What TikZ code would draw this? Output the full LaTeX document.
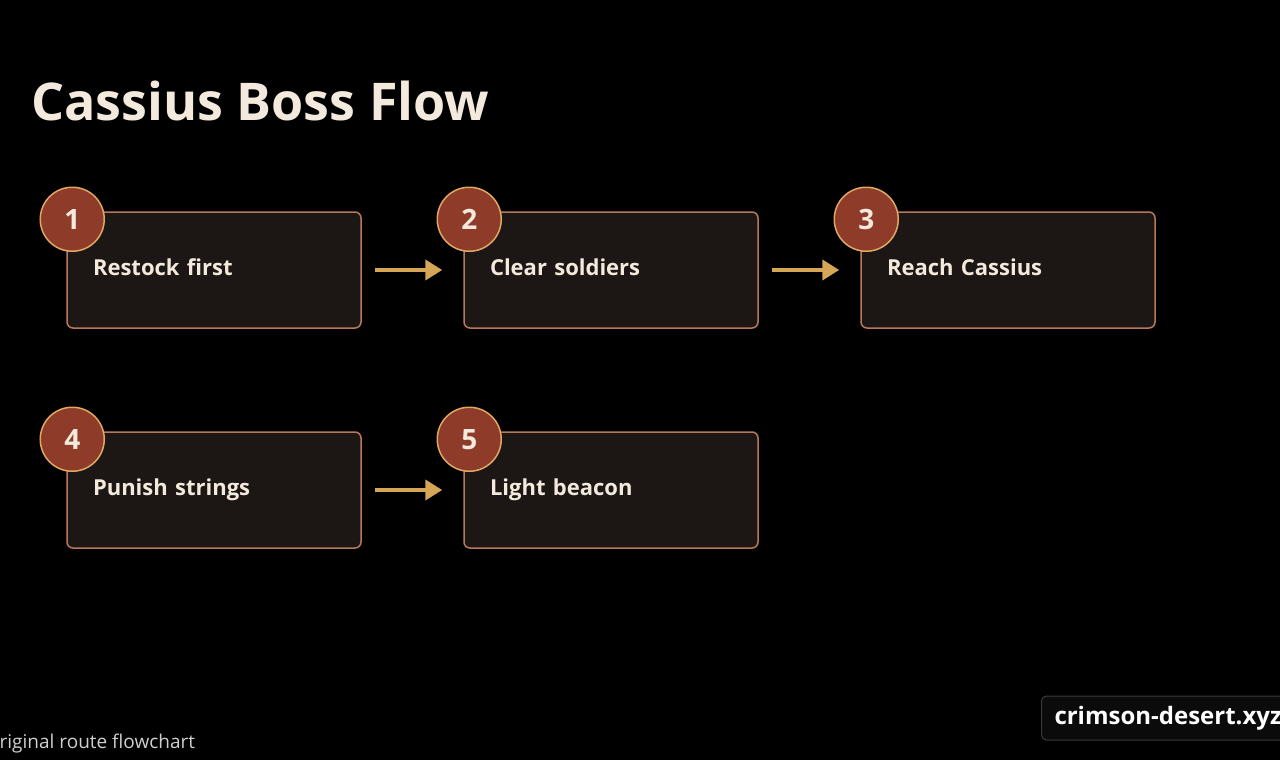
\documentclass[tikz,border=0pt]{standalone}
\usepackage{fontspec}
\setmainfont{Open Sans}
\usetikzlibrary{shapes,arrows.meta,positioning}
\definecolor{boxfill}{HTML}{1C1714}
\definecolor{boxline}{HTML}{B8785A}
\definecolor{badgefill}{HTML}{8E3B2A}
\definecolor{badgeline}{HTML}{E0A862}
\definecolor{flowcol}{HTML}{D4A656}
\definecolor{ink}{HTML}{F3E9DC}
\definecolor{notegray}{HTML}{CFCFCF}
\definecolor{tagfill}{HTML}{0B0B0B}
\definecolor{tagline}{HTML}{3A3A3A}
\tikzstyle{block} = [draw=boxline, fill=boxfill, rectangle, rounded corners=6pt,
    line width=1.5pt, minimum height=116pt, minimum width=294pt,
    text width=242pt, inner xsep=26pt, align=left, text=ink,
    font=\bfseries\fontsize{22}{26}\selectfont]
\tikzstyle{badge} = [draw=badgeline, fill=badgefill, circle, line width=1.5pt,
    minimum size=64pt, inner sep=0pt, text=ink,
    font=\bfseries\fontsize{28}{32}\selectfont]
\tikzstyle{flow} = [draw=flowcol, line width=4pt, shorten <=13pt, shorten >=21pt]

\begin{document}
\begin{tikzpicture}[x=1pt, y=-1pt, node distance=397pt,
    >={Triangle[length=17pt,width=20pt]}]
    % Page background and frame
    \fill[black] (0,0) rectangle (1280,760);
    \useasboundingbox (0,0) rectangle (1280,760);
    \node [anchor=base west, inner sep=0pt, text=ink,
            font=\bfseries\fontsize{52}{58}\selectfont] (title) at (31,121) {Cassius Boss Flow};

    % First row of steps
    \node [block] (restock) at (214,270) {\raisebox{6pt}{Restock first}};
    \node [block, right of=restock] (soldiers) {\raisebox{6pt}{Clear soldiers}};
    \node [block, right of=soldiers] (reach) {\raisebox{6pt}{Reach Cassius}};
    % Second row sits under the first one
    \node [block, below of=restock, node distance=220pt] (punish) {\raisebox{6pt}{Punish strings}};
    \node [block, right of=punish] (beacon) {\raisebox{6pt}{Light beacon}};

    % Number badges on the top left corners
    \node [badge] (n1) at ([xshift=6pt,yshift=-8pt]restock.north west) {1};
    \node [badge] (n2) at ([xshift=6pt,yshift=-8pt]soldiers.north west) {2};
    \node [badge] (n3) at ([xshift=6pt,yshift=-8pt]reach.north west) {3};
    \node [badge] (n4) at ([xshift=6pt,yshift=-8pt]punish.north west) {4};
    \node [badge] (n5) at ([xshift=6pt,yshift=-8pt]beacon.north west) {5};

    % Connectors between the steps
    \draw [flow,->] (restock) -- (soldiers);
    \draw [flow,->] (soldiers) -- (reach);
    \draw [flow,->] (punish) -- (beacon);

    % Footer note and site tag
    \node [anchor=base west, inner sep=0pt, text=notegray,
            font=\fontsize{19}{23}\selectfont] (note) at (-12,748) {original route flowchart};
    \node [draw=tagline, fill=tagfill, rounded corners=5pt, anchor=west,
            minimum height=44pt, inner xsep=13pt, line width=1pt, text=white,
            font=\bfseries\fontsize{24}{28}\selectfont] (tag) at (1041,718) {crimson-desert.xyz};
\end{tikzpicture}
\end{document}
